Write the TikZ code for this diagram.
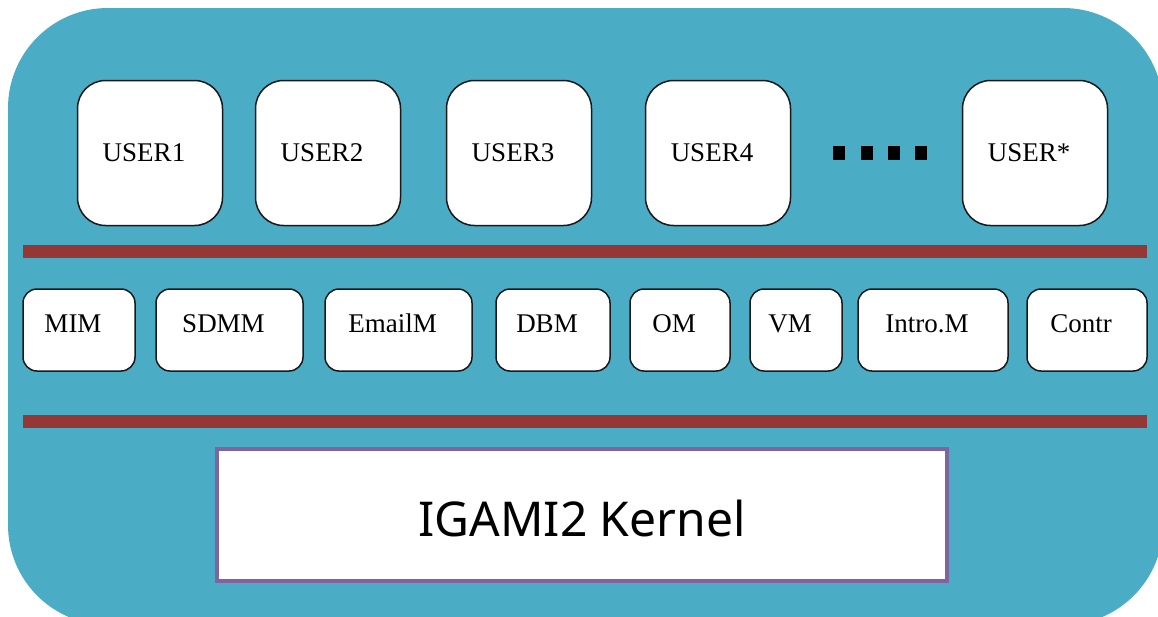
\documentclass[tikz,border=0pt]{standalone}
\usepackage{fontspec}
\setmainfont{Liberation Serif}
\newfontfamily\kernelfont{Noto Sans}
\definecolor{panel}{RGB}{75,172,198}
\definecolor{bar}{RGB}{149,55,53}
\definecolor{kernelline}{RGB}{128,100,162}
\tikzset{
  userbox/.style={draw=black!90,fill=white,line width=1.5pt,rounded corners=28pt,
    minimum width=145pt,minimum height=145pt,inner sep=0pt,
    font=\fontsize{27}{30}\selectfont,execute at end node={\hspace*{12pt}}},
  modbox/.style={draw=black!90,fill=white,line width=1.5pt,rounded corners=14pt,
    minimum height=82pt,inner sep=0pt,text height=20pt,text depth=16pt,
    font=\fontsize{27}{30}\selectfont,execute at end node={\hspace*{12pt}}},
  kernelbox/.style={draw=kernelline,fill=white,line width=4pt,inner sep=0pt,
    minimum width=730pt,minimum height=132pt,text height=42pt,text depth=0pt,
    font=\kernelfont\fontsize{48}{54}\selectfont},
}
\def\usernode#1#2#3{
  % 1: name
  % 2: x center
  % 3: label
  \node[userbox] (#1) at (#2,153) {#3};
}
\def\modnode#1#2#3#4{
  % 1: name
  % 2: x center
  % 3: width
  % 4: label
  \node[modbox,minimum width=#3] (#1) at (#2,330) {#4};
}
\begin{document}
\begin{tikzpicture}[x=1pt,y=-1pt]
    \useasboundingbox (0,0) rectangle (1158,616);
    \fill[panel,rounded corners=100pt] (8,8) rectangle (1163,625);

    % users
    \usernode{user1}{150}{USER1}
    \usernode{user2}{328}{USER2}
    \usernode{user3}{519}{USER3}
    \usernode{user4}{718}{USER4}
    \usernode{userx}{1035}{USER*}
    \foreach \x in {833,861,888,915}
      \fill (\x,146) rectangle +(12,14);

    \fill[bar] (23,245) rectangle (1147,258);

    % modules
    \modnode{mim}{79}{112}{MIM}
    \modnode{sdmm}{229.5}{147}{SDMM}
    \modnode{emailm}{398.5}{147}{EmailM}
    \modnode{dbm}{553}{114}{DBM}
    \modnode{om}{680}{100}{OM}
    \modnode{vm}{796}{92}{VM}
    \modnode{introm}{933}{150}{Intro.M}
    \modnode{contr}{1087}{120}{Contr}

    \fill[bar] (23,415) rectangle (1147,428);

    \node[kernelbox] (kernel) at (582,515) {IGAMI2 Kernel};
\end{tikzpicture}
\end{document}
